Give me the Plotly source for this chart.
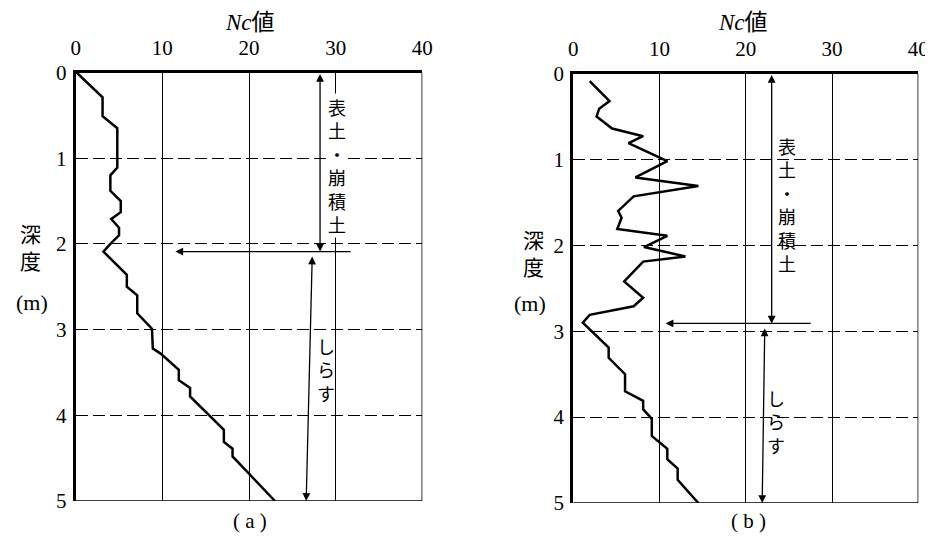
import plotly.graph_objects as go

# ---- data ----
a_nc = [0.1, 3.1, 3.1, 4.8, 4.8, 4.0, 4.0, 5.2, 5.2, 4.1, 5.0, 5.0, 4.0, 3.2, 5.9, 5.9,
        7.1, 7.1, 8.8, 8.9, 9.8, 11.9, 11.9, 13.2, 13.2, 17.1, 17.1, 18.1, 18.1, 23.0]
a_depth = [0, 0.29, 0.51, 0.65, 1.11, 1.2, 1.38, 1.5, 1.63, 1.71, 1.81, 1.9, 2.0, 2.09, 2.36, 2.5,
           2.6, 2.81, 2.99, 3.22, 3.28, 3.47, 3.59, 3.68, 3.78, 4.17, 4.31, 4.39, 4.48, 5.0]

b_nc = [1.9, 4.2, 3.0, 2.7, 4.5, 8.1, 6.4, 10.9, 7.2, 14.5, 7.0, 5.2, 5.6, 5.1, 10.9, 8.2,
        13.0, 8.1, 5.9, 8.1, 7.0, 1.9, 1.1, 4.1, 4.1, 6.0, 6.0, 8.1, 8.1, 9.1, 9.1, 10.9,
        10.9, 12.1, 12.1, 14.5]
b_depth = [0.09, 0.32, 0.41, 0.5, 0.64, 0.73, 0.81, 1.02, 1.21, 1.31, 1.43, 1.6, 1.68, 1.81,
           1.89, 2.02, 2.13, 2.19, 2.42, 2.61, 2.71, 2.81, 2.9, 3.19, 3.31, 3.5, 3.7, 3.81,
           3.91, 4.02, 4.22, 4.37, 4.49, 4.6, 4.73, 5.0]

x_ticks = [0, 10, 20, 30, 40]
y_ticks = [0, 1, 2, 3, 4, 5]

# layer boundaries / annotation values
a_boundary = 2.09
b_boundary = 2.91

OFF = 8  # page body margin
W, H = 933 - OFF, 543 - OFF - 8
SERIF = "Liberation Serif, Times New Roman, serif"
CJK = "Noto Sans CJK JP"


def px(x):
    return (x - OFF) / W


def py(y):
    return 1 - (y - OFF) / H


fig = go.Figure()
fig.add_trace(go.Scatter(x=a_nc, y=a_depth, mode="lines", xaxis="x", yaxis="y",
                         line=dict(color="black", width=2.5), showlegend=False))
fig.add_trace(go.Scatter(x=b_nc, y=b_depth, mode="lines", xaxis="x2", yaxis="y2",
                         line=dict(color="black", width=2.5), showlegend=False))

xcommon = dict(range=[0, 40], tickvals=x_ticks, side="top", showline=True, linecolor="black",
               linewidth=3, ticks="inside", ticklen=5, tickcolor="black",
               showgrid=True, gridcolor="black", gridwidth=1, zeroline=False,
               tickfont=dict(family=SERIF, size=21, color="black"), ticklabelstandoff=6,
               automargin=False, fixedrange=True)
ycommon = dict(range=[5, 0], tickvals=y_ticks, showline=True, linecolor="black",
               linewidth=3, ticks="inside", ticklen=5, tickcolor="black",
               showgrid=True, gridcolor="black", gridwidth=1, griddash="12px,5px",
               zeroline=False, tickfont=dict(family=SERIF, size=21, color="black"),
               ticklabelstandoff=2, automargin=False, fixedrange=True)

fig.update_layout(
    width=W, height=H, margin=dict(l=0, r=0, t=0, b=0, autoexpand=False),
    paper_bgcolor="white", plot_bgcolor="white", showlegend=False,
    xaxis=dict(domain=[px(75.7), px(422.3)], anchor="y", **xcommon),
    yaxis=dict(domain=[py(501), py(72.5)], anchor="x", **ycommon),
    xaxis2=dict(domain=[px(573.3), px(918.3)], anchor="y2", **xcommon),
    yaxis2=dict(domain=[py(503), py(73.5)], anchor="x2", **ycommon),
)

# thin right & bottom borders
shapes = []
for xr, yr in [("x", "y"), ("x2", "y2")]:
    shapes.append(dict(type="line", xref=xr, yref=yr, x0=40, x1=40, y0=0, y1=5,
                       line=dict(color="black", width=1.5)))
    shapes.append(dict(type="line", xref=xr, yref=yr, x0=0, x1=40, y0=5, y1=5,
                       line=dict(color="black", width=1.5)))
fig.update_layout(shapes=shapes)

anns = []


def arrow(xr, yr, x0, y0, x1, y1, both=True):
    anns.append(dict(xref=xr, yref=yr, axref=xr, ayref=yr, x=x1, y=y1, ax=x0, ay=y0,
                     text="", showarrow=True, arrowhead=2, arrowsize=1.2, arrowwidth=1.3,
                     arrowcolor="black", arrowside="end+start" if both else "end",
                     startarrowhead=2, startarrowsize=1.2))


def vtext(xr, yr, x, y, s, size=18, bg=None):
    anns.append(dict(xref=xr, yref=yr, x=x, y=y, text="<br>".join(list(s)), showarrow=False,
                     xanchor="center", yanchor="middle",
                     font=dict(family=CJK, size=size, color="black"),
                     bgcolor=bg if bg else "rgba(0,0,0,0)", borderpad=0, align="center"))


def ptext(x, y, s, family, size):
    anns.append(dict(xref="paper", yref="paper", x=px(x), y=py(y), text=s, showarrow=False,
                     xanchor="center", yanchor="middle", align="center",
                     font=dict(family=family, size=size, color="black")))


# panel (a)
arrow("x", "y", 28.2, 0.0, 28.2, a_boundary)
arrow("x", "y", 31.9, a_boundary, 11.5, a_boundary, both=False)
arrow("x", "y", 27.3, a_boundary + 0.04, 26.6, 5.0)
vtext("x", "y", 30.1, 1.08, "表土・崩積土", bg="white")
vtext("x", "y", 28.9, 3.47, "しらす")

# panel (b)
arrow("x2", "y2", 23.0, 0.0, 23.0, b_boundary)
arrow("x2", "y2", 27.7, b_boundary, 10.7, b_boundary, both=False)
arrow("x2", "y2", 22.2, b_boundary + 0.04, 21.9, 5.0)
vtext("x2", "y2", 24.8, 1.53, "表土・崩積土")
vtext("x2", "y2", 23.5, 4.05, "しらす")

# titles and side labels
for cx in (250, 743):
    ptext(cx, 22, "<i>Nc</i>値", SERIF + ", " + CJK, 23)
for cx, cy in ((30, 246), (533, 252)):
    ptext(cx, cy, "深<br>度", CJK, 21)
for cx, cy in ((32, 302), (530, 303)):
    ptext(cx, cy, "(m)", SERIF, 22)
for cx, lab in ((250, "( a )"), (748, "( b )")):
    ptext(cx, 521, lab, SERIF, 21)

fig.update_layout(annotations=anns)
fig.write_html("out.html")
